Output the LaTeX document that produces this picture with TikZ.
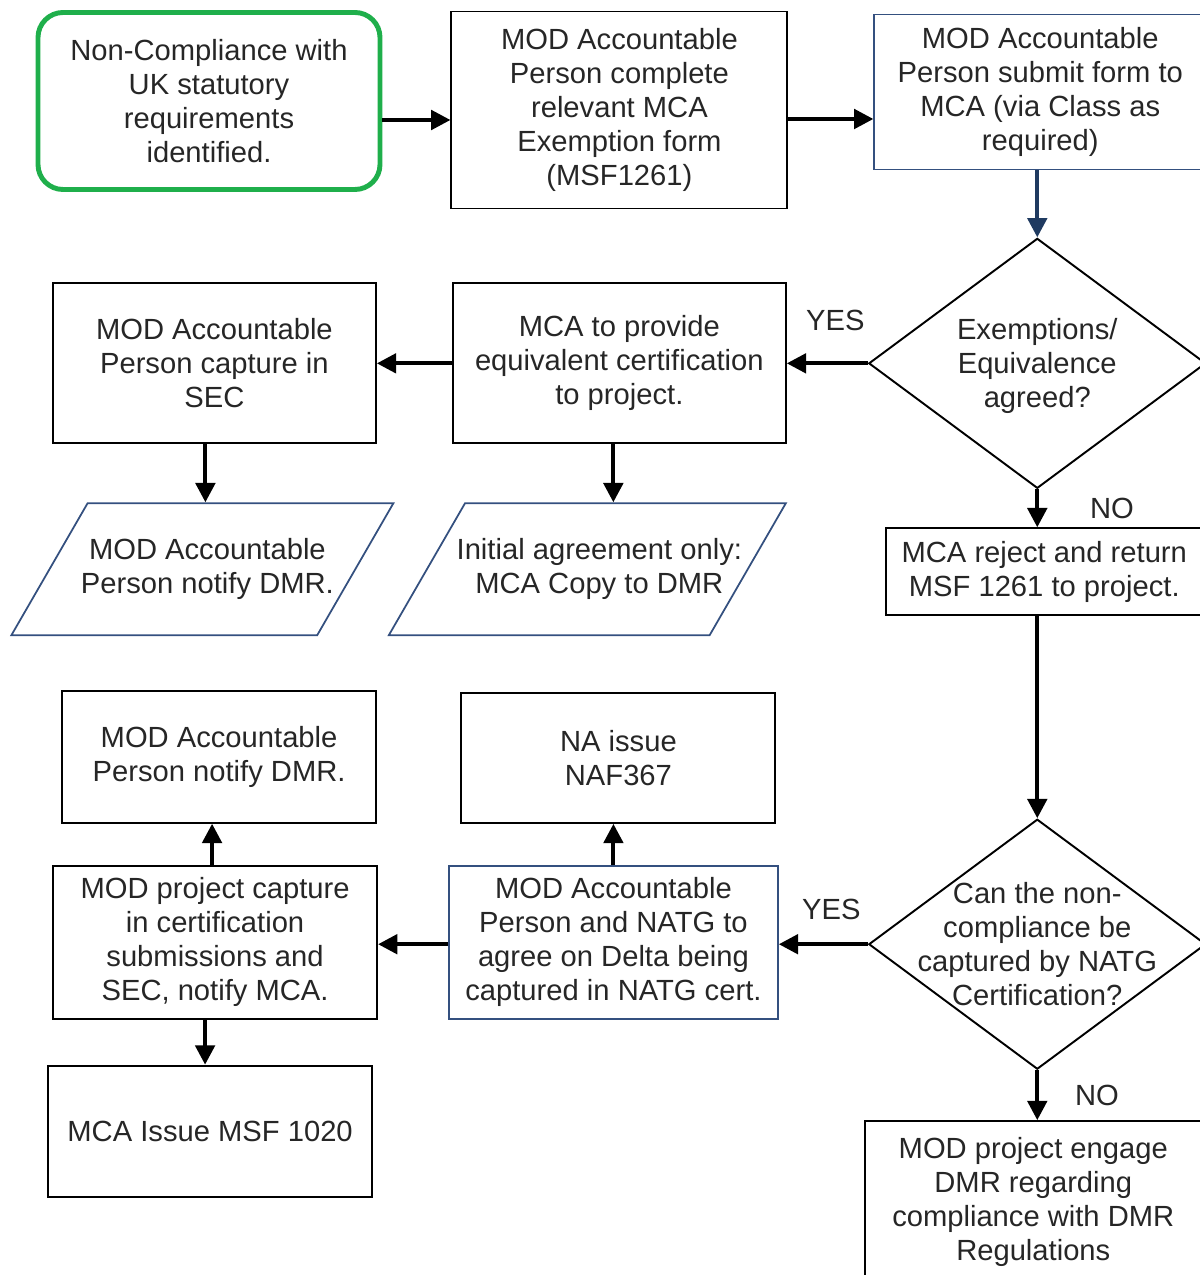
\documentclass[tikz,border=0pt]{standalone}
\usepackage{fontspec}
\setmainfont{Liberation Sans}
\usetikzlibrary{shapes.geometric,arrows.meta,positioning,calc}
\definecolor{StartGreen}{HTML}{1FAF4B}
\definecolor{EdgeNavy}{HTML}{34507F}
\definecolor{ArrowNavy}{HTML}{1F3A60}
\definecolor{TextGrey}{HTML}{262626}
\newcommand{\flowfont}{\fontsize{16.6}{19.3}\selectfont}
\tikzset{
  % Base box
  BX/.style={rectangle,draw,line width=1.1pt,
             text centered,align=center,inner sep=3pt,
             text=TextGrey,font=\flowfont},
  % Base diamond (text goes in a centre label)
  DM/.style={diamond,draw,line width=1.1pt,inner sep=0pt,
             minimum width=6.74cm,minimum height=5cm},
  % Parallelogram (text goes in a centre label too)
  PG/.style={trapezium,trapezium left angle=60,trapezium right angle=120,
             trapezium stretches body,minimum width=7.64cm,
             inner xsep=0pt,inner ysep=1.32cm,draw,line width=1pt},
  % Arrow
  arr/.style={-{Triangle[length=11pt,width=11pt]},line width=2.3pt},
  % Colour variants
  bK/.style={BX,draw=black},
  bN/.style={BX,draw=EdgeNavy,line width=1pt},
  bG/.style={BX,draw=StartGreen,line width=2.8pt,rounded corners=0.5cm},
  pN/.style={PG,draw=EdgeNavy},
  % Label styles
  DL/.style={font=\flowfont,text=TextGrey,align=center},
  LB/.style={font=\flowfont,text=TextGrey}
}
\begin{document}
\begin{tikzpicture}[every node/.style={align=center}]
  \useasboundingbox (-4.18,2.02) rectangle (19.82,-23.48);

  \node[bG,minimum width=6.84cm,minimum height=3.54cm] (start) {Non-Compliance with\\UK statutory\\requirements\\identified.};
  \node[bK,minimum width=6.72cm,minimum height=3.94cm,right=1.36cm of start,yshift=-0.18cm] (form) {MOD Accountable\\Person complete\\relevant MCA\\Exemption form\\(MSF1261)};
  \node[bN,minimum width=6.64cm,minimum height=3.1cm,right=1.70cm of form,yshift=0.36cm] (submit) {MOD Accountable\\Person submit form to\\MCA (via Class as\\required)};
  \node[DM,below=1.34cm of submit,xshift=-0.06cm,label={[DL,yshift=-0.06cm]center:{Exemptions/\\Equivalence\\agreed?}}] (dia1) {};

  \node[bK,minimum width=6.66cm,minimum height=3.2cm,left=1.62cm of dia1] (mca) {MCA to provide\\equivalent certification\\to project.};
  \node[bK,minimum width=6.46cm,minimum height=3.2cm,left=1.50cm of mca] (sec) {MOD Accountable\\Person capture in\\SEC};
  \node[pN,below=1.16cm of sec,xshift=-0.24cm,label={[DL,xshift=0.1cm]center:{MOD Accountable\\Person notify DMR.}}] (dmr1) {};
  \node[pN,minimum width=7.94cm,below=1.16cm of mca,xshift=-0.64cm,label={[DL,xshift=0.24cm]center:{Initial agreement only:\\MCA Copy to DMR}}] (copy) {};
  \node[bK,minimum width=6.32cm,minimum height=1.74cm,below=0.76cm of dia1,xshift=0.14cm] (reject) {MCA reject and return\\MSF 1261 to project.};

  \node[DM,below=4.04cm of reject,xshift=-0.14cm,label={[DL]center:{Can the non-\\compliance be\\captured by NATG\\Certification?}}] (dia2) {};
  \node[bN,minimum width=6.58cm,minimum height=3.06cm,left=1.78cm of dia2,yshift=0.04cm] (delta) {MOD Accountable\\Person and NATG to\\agree on Delta being\\captured in NATG cert.};
  \node[bK,minimum width=6.48cm,minimum height=3.06cm,left=1.40cm of delta] (cert) {MOD project capture\\in certification\\submissions and\\SEC, notify MCA.};
  \node[bK,minimum width=6.28cm,minimum height=2.6cm,above=0.82cm of delta,xshift=0.1cm] (naf) {NA issue\\NAF367};
  \node[bK,minimum width=6.28cm,minimum height=2.64cm,above=0.82cm of cert,xshift=0.08cm] (dmr2) {MOD Accountable\\Person notify DMR.};
  \node[bK,minimum width=6.48cm,minimum height=2.62cm,below=0.9cm of cert,xshift=-0.1cm] (msf) {MCA Issue MSF 1020};
  \node[bK,minimum width=6.74cm,minimum height=3.24cm,below=1.0cm of dia2,xshift=-0.08cm] (engage) {MOD project engage\\DMR regarding\\compliance with DMR\\Regulations};

  \draw[arr]([yshift=-0.38cm]start.east) -- ([yshift=-0.38cm]start.east -| form.west);
  \draw[arr]([yshift=-0.18cm]form.east) -- ([yshift=-0.18cm]form.east -| submit.west);
  \draw[arr,draw=ArrowNavy,fill=ArrowNavy](dia1.north |- submit.south) -- (dia1.north);
  \draw[arr](dia1.west) -- node[LB,above=0.5cm,xshift=0.16cm]{YES} (mca.east);
  \draw[arr](mca.west) -- (sec.east);
  \draw[arr]([xshift=-0.18cm]sec.south) -- ([xshift=-0.18cm]sec.south |- dmr1.north);
  \draw[arr]([xshift=-0.12cm]mca.south) -- ([xshift=-0.12cm]mca.south |- copy.north);
  \draw[arr](dia1.south) -- node[LB,right=0.9cm]{NO} (dia1.south |- reject.north);
  \draw[arr](dia2.north |- reject.south) -- (dia2.north);
  \draw[arr](dia2.west) -- node[LB,above=0.34cm,xshift=0.16cm]{YES} (dia2.west -| delta.east);
  \draw[arr](delta.west |- dia2) -- (cert.east |- dia2);
  \draw[arr](delta.north) -- (delta.north |- naf.south);
  \draw[arr]([xshift=-0.06cm]cert.north) -- ([xshift=-0.06cm]cert.north |- dmr2.south);
  \draw[arr]([xshift=-0.2cm]cert.south) -- ([xshift=-0.2cm]cert.south |- msf.north);
  \draw[arr](dia2.south) -- node[LB,right=0.6cm]{NO} (dia2.south |- engage.north);
\end{tikzpicture}
\end{document}
